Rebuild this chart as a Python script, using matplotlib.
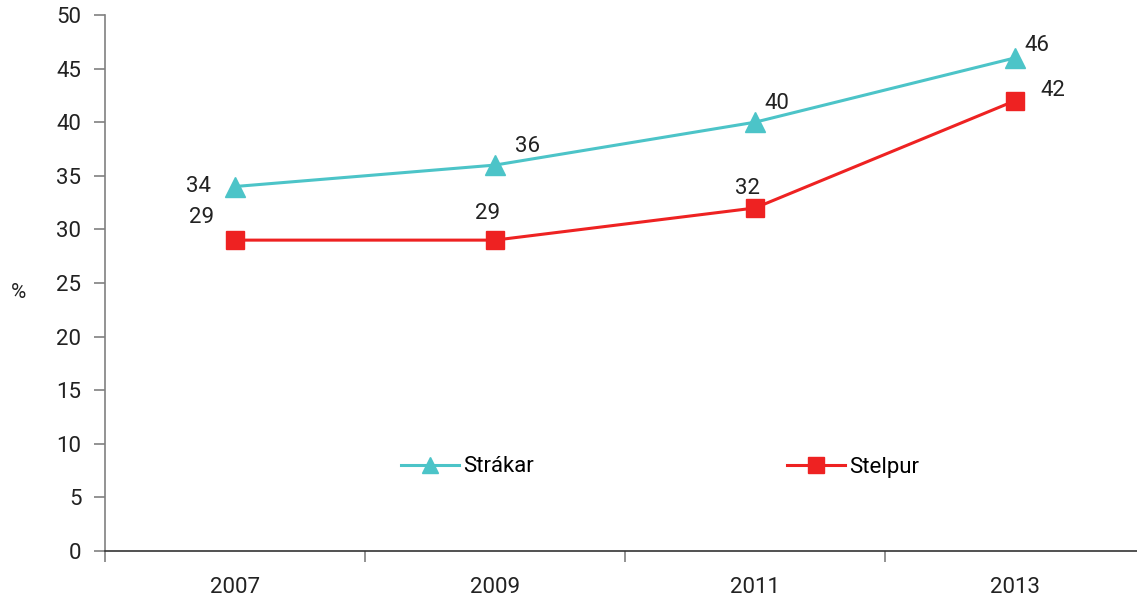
import matplotlib
matplotlib.use("Agg")
import matplotlib.pyplot as plt

years = ["2007", "2009", "2011", "2013"]
strakar = [34, 36, 40, 46]
stelpur = [29, 29, 32, 42]
yticks = [0, 5, 10, 15, 20, 25, 30, 35, 40, 45, 50]

# label offsets in pixels (style)
off_strakar = [(-37, 0), (33, 19), (22, 19), (22, 12)]
off_stelpur = [(-33, 23), (-7, 27), (-8, 19), (38, 10)]

plt.rcParams['font.family'] = ['Roboto', 'DejaVu Sans']
FS = 16
DPI = 100
fig = plt.figure(figsize=(11.37, 6.01), dpi=DPI)
ax = fig.add_axes([105/1137, 1-551/601, 1-105/1137, (551-15)/601])

cyan = "#4CC4C8"
red = "#EE2222"
x = list(range(len(years)))
ax.plot(x, strakar, color=cyan, lw=2.2, marker="^", ms=14, label="Strákar", clip_on=False)
ax.plot(x, stelpur, color=red, lw=2.2, marker="s", ms=13, label="Stelpur", clip_on=False)

pt = 72/DPI
for xi, v, (dx, dy) in zip(x, strakar, off_strakar):
    ax.annotate(str(v), (xi, v), xytext=(dx*pt, dy*pt), textcoords="offset points",
                ha="center", va="center", fontsize=FS, color="#222222")
for xi, v, (dx, dy) in zip(x, stelpur, off_stelpur):
    ax.annotate(str(v), (xi, v), xytext=(dx*pt, dy*pt), textcoords="offset points",
                ha="center", va="center", fontsize=FS, color="#222222")

ax.set_xlim(-0.5, 3.5 - 8/260)
ax.set_ylim(0, 50)
ax.set_yticks(yticks)
ax.set_yticklabels([str(t) for t in yticks], fontsize=FS, color="#222222")
ax.set_xticks(x)
ax.set_xticklabels(years, fontsize=FS, color="#222222")
ax.tick_params(axis="x", which="major", length=0, pad=19)
ax.set_xticks([-0.5, 0.5, 1.5, 2.5], minor=True)
ax.tick_params(axis="x", which="minor", length=8, color="#808080", width=1.2, direction="out")
ax.tick_params(axis="y", length=8, color="#808080", width=1.2, direction="out", pad=9)

for s in ["top", "right"]:
    ax.spines[s].set_visible(False)
ax.spines["left"].set_color("#808080")
ax.spines["left"].set_linewidth(1.2)
ax.spines["bottom"].set_color("#333333")
ax.spines["bottom"].set_linewidth(1.2)

fig.text(18/1137, 1-293/601, "%", fontsize=FS-1, ha="center", va="center", color="#222222")

ax.legend(loc="center", bbox_to_anchor=((660-105)/1032, (551-467)/536), ncol=2,
          frameon=False, fontsize=FS, handlelength=2.6, handletextpad=0.2,
          columnspacing=11.4, markerscale=0.85)

fig.savefig("out.png", dpi=DPI)
